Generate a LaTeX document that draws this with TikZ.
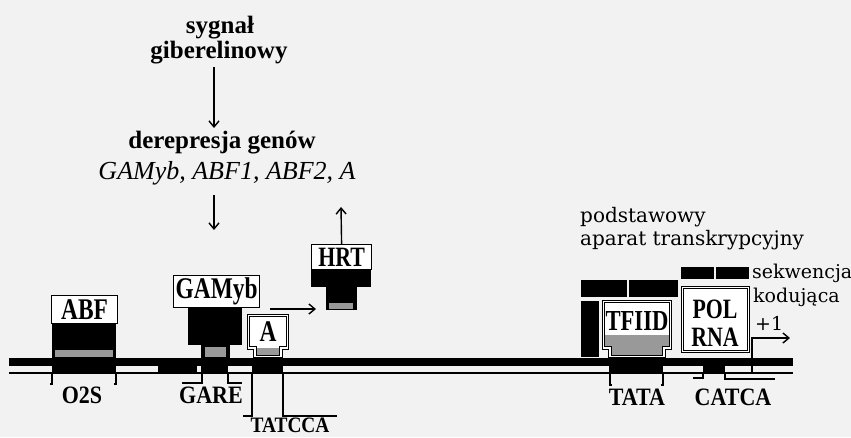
\documentclass[tikz,border=0pt]{standalone}
\usepackage{fontspec}
\setmainfont{Liberation Serif}
\newfontfamily\labf[FakeStretch=0.78]{Liberation Serif}
\newfontfamily\labg[FakeStretch=0.88]{Liberation Serif}
\newfontfamily\plainf{DejaVu Serif}
\usetikzlibrary{arrows.meta}
\begin{document}
\begin{tikzpicture}[x=1pt,y=-1pt,
  arr/.style={line width=1.4pt,-{Straight Barb[length=6pt,width=10pt,line width=1.4pt]}},
  wbox/.style={draw,line width=1.2pt,fill=white,inner sep=0pt,font=\labf\bfseries\fontsize{30}{30}\selectfont},
  boxlab/.style={inner sep=0pt,font=\labf\bfseries\fontsize{30}{30}\selectfont},
  gry/.style={fill=black!40},
  dbl/.style={draw,line width=0.9pt,double=white,double distance=1.3pt},
  brk/.style={line width=1.3pt},
  dnalab/.style={inner sep=0pt,anchor=base,font=\labg\bfseries\fontsize{25}{25}\selectfont},
  plain/.style={inner sep=0pt,anchor=base west,font=\plainf\fontsize{20}{20}\selectfont},
  small/.style={inner sep=0pt,anchor=base west,font=\plainf\fontsize{19}{19}\selectfont},
  toptxt/.style={inner sep=0pt,anchor=base,font=\bfseries\fontsize{25}{25}\selectfont}
]
\fill[black!5] (0,0) rectangle (851,437);
\useasboundingbox (0,0) rectangle (851,437);

% ---------- top text ----------
\node[toptxt] (sig1) at (220,33) {sygnał};
\node[toptxt] (sig2) at (219,58) {giberelinowy};
\node[toptxt] (der) at (222,148) {derepresja genów};
\node[inner sep=0pt,anchor=base,font=\itshape\fontsize{26}{26}\selectfont] (ital) at (227,179) {GAMyb, ABF1, ABF2, A};
\coordinate (a1t) at (214,67);
\coordinate (a1b) at (214,128);
\coordinate (a2t) at (214,195);
\coordinate (a2b) at (214,230);
\draw[arr] (a1t) -- (a1b);
\draw[arr] (a2t) -- (a2b);

% ---------- DNA ----------
\fill (9,358) rectangle (793,366);
\draw[line width=2pt] (9,373) -- (793,373);
\fill (52,366) rectangle (116,373);
\fill (158,366) rectangle (197,373);
\fill (201,366) rectangle (228,373);
\fill (252,366) rectangle (283,373);
\fill (609,366) rectangle (663,373);
\fill (703,366) rectangle (725,373);

% brackets
\draw[brk] (52,373) -- (52,384) -- (50,384);
\draw[brk] (116,373) -- (116,384) -- (114,384);
\draw[brk] (202,373) -- (202,383) -- (182,383);
\draw[brk] (228,373) -- (228,383) -- (242,383);
\draw[brk] (252,373) -- (252,416) -- (243,416);
\draw[brk] (283,373) -- (283,416) -- (337,416);
\draw[brk] (610,373) -- (610,385) -- (612,385);
\draw[brk] (663,373) -- (663,385) -- (661,385);
\draw[brk] (703,373) -- (703,378) -- (693,378);
\draw[brk] (725,373) -- (725,379) -- (775,379);

\node[dnalab] (o2s) at (82,403) {O2S};
\node[dnalab] (gare) at (211,403) {GARE};
\node[dnalab,font=\labg\bfseries\fontsize{22}{22}\selectfont] (tatcca) at (290,432) {TATCCA};
\node[dnalab] (tata) at (637,405) {TATA};
\node[dnalab] (catca) at (733,405) {CATCA};

% ---------- ABF ----------
\fill (52,322) rectangle (116,358);
\fill[gry] (55,350) rectangle (113,357);
\node[wbox,minimum width=66pt,minimum height=28pt,anchor=north west] (abf) at (51,295) {ABF};

% ---------- GAMyb ----------
\fill (188,305) rectangle (242,345);
\fill (201,344) rectangle (230,358);
\fill[gry] (205,347) rectangle (226,357);
\node[wbox,minimum width=86pt,minimum height=32pt,anchor=north west] (gamyb) at (173,275) {GAMyb};

% ---------- A ----------
\fill[white] (248.5,315.5) -- (287.5,315.5) -- (287.5,348) -- (281,348) -- (281,356.4) -- (255,356.4) -- (255,348) -- (248.5,348) -- cycle;
\fill[gry] (256.6,348) rectangle (279.4,356);
\draw[dbl] (248.5,315.5) -- (287.5,315.5) -- (287.5,348) -- (281,348) -- (281,356.4) -- (255,356.4) -- (255,348) -- (248.5,348) -- cycle;
\node[boxlab] (alab) at (268,332) {A};

% ---------- HRT ----------
\fill (311,268) rectangle (371,287);
\fill (326,286) rectangle (357,310);
\fill[gry] (329,303) rectangle (353,309);
\node[wbox,minimum width=60pt,minimum height=25pt,anchor=north west,font=\labf\bfseries\fontsize{28}{28}\selectfont] (hrt) at (311,244) {HRT};
\coordinate (hrtup) at (341,207);
\draw[arr] (hrt.north) -- (hrtup);
\coordinate (hs) at (270,309);
\coordinate (he) at (316,309);
\draw[arr] (hs) -- (he);

% ---------- TFIID ----------
\fill (581,280) rectangle (627,297);
\fill (629,280) rectangle (678,297);
\fill (581,301) rectangle (599,357);
\fill[white] (603.6,301.6) -- (670.4,301.6) -- (670.4,348) -- (664,348) -- (664,356.4) -- (610,356.4) -- (610,348) -- (603.6,348) -- cycle;
\fill[gry] (604,335) rectangle (670,348.5);
\fill[gry] (610,347) rectangle (664,356.4);
\draw[dbl] (603.6,301.6) -- (670.4,301.6) -- (670.4,348) -- (664,348) -- (664,356.4) -- (610,356.4) -- (610,348) -- (603.6,348) -- cycle;
\node[boxlab,font=\labf\bfseries\fontsize{29}{29}\selectfont] (tfiid) at (637,321) {TFIID};

% ---------- POL RNA ----------
\fill (681,267) rectangle (714,279);
\fill (716,267) rectangle (749,279);
\filldraw[fill=white,dbl] (682.6,287.6) rectangle (748.4,351.4);
\node[boxlab,font=\labf\bfseries\fontsize{28}{28}\selectfont] (pol) at (715,309) {POL};
\node[boxlab,font=\labf\bfseries\fontsize{28}{28}\selectfont] (rna) at (715,337) {RNA};

% ---------- right texts ----------
\node[plain] (pod1) at (580,222) {podstawowy};
\node[plain] (pod2) at (580,245) {aparat transkrypcyjny};
\node[small] (sek) at (752,278) {sekwencja};
\node[small] (kod) at (753,302) {kodująca};
\node[small] (plus) at (755,330) {+1};
\coordinate (p1a) at (752,373);
\coordinate (p1b) at (752,338);
\coordinate (p1c) at (790,338);
\draw[arr] (p1a) -- (p1b) -- (p1c);
\end{tikzpicture}
\end{document}
